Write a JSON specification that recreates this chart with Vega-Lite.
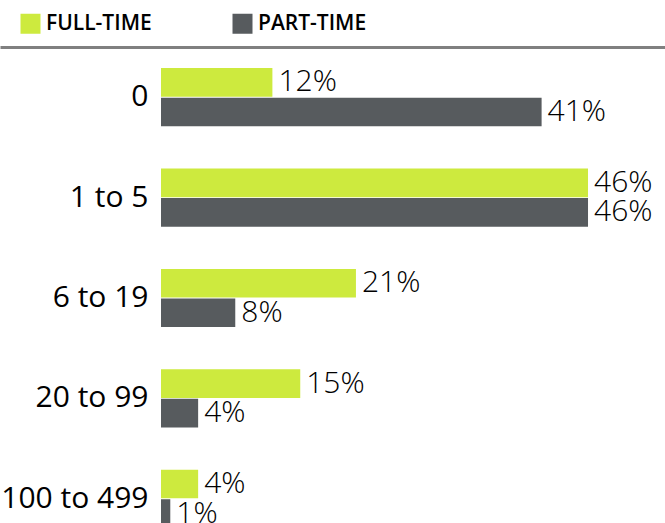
{
  "$schema": "https://vega.github.io/schema/vega-lite/v6.json",
  "width": 665,
  "height": 502,
  "padding": {"top": 13, "left": 0, "right": 0, "bottom": 0},
  "data": {
    "values": [
      {"group": "0", "type": "FULL-TIME", "value": 0.12},
      {"group": "0", "type": "PART-TIME", "value": 0.41},
      {"group": "1 to 5", "type": "FULL-TIME", "value": 0.46},
      {"group": "1 to 5", "type": "PART-TIME", "value": 0.46},
      {"group": "6 to 19", "type": "FULL-TIME", "value": 0.21},
      {"group": "6 to 19", "type": "PART-TIME", "value": 0.08},
      {"group": "20 to 99", "type": "FULL-TIME", "value": 0.15},
      {"group": "20 to 99", "type": "PART-TIME", "value": 0.04},
      {"group": "100 to 499", "type": "FULL-TIME", "value": 0.04},
      {"group": "100 to 499", "type": "PART-TIME", "value": 0.01}
    ]
  },
  "encoding": {
    "y": {
      "field": "group",
      "type": "nominal",
      "sort": ["0", "1 to 5", "6 to 19", "20 to 99", "100 to 499"],
      "scale": {"paddingInner": 0.42, "paddingOuter": 0.21},
      "axis": {
        "title": null,
        "domain": false,
        "ticks": false,
        "labelPadding": 13,
        "offset": -161,
        "labelFont": "Open Sans",
        "labelFontSize": 30,
        "labelColor": "#000000",
        "labelLimit": 0
      }
    },
    "yOffset": {
      "field": "type",
      "type": "nominal",
      "sort": ["FULL-TIME", "PART-TIME"],
      "scale": {"paddingInner": 0.03}
    },
    "x": {
      "field": "value",
      "type": "quantitative",
      "scale": {"domain": [-0.17344, 0.54293], "nice": false, "zero": false},
      "axis": {
        "orient": "top",
        "title": null,
        "labels": false,
        "ticks": false,
        "grid": false,
        "domain": true,
        "domainColor": "#808080",
        "domainWidth": 3
      }
    }
  },
  "layer": [
    {
      "mark": {"type": "bar"},
      "encoding": {
        "x2": {"datum": 0},
        "color": {
          "field": "type",
          "type": "nominal",
          "scale": {"domain": ["FULL-TIME", "PART-TIME"], "range": ["#CDEA3E", "#575B5E"]},
          "legend": {
            "orient": "none",
            "legendX": 20,
            "legendY": -34,
            "direction": "horizontal",
            "title": null,
            "symbolType": "square",
            "symbolSize": 400,
            "symbolStrokeWidth": 0,
            "labelFont": "Open Sans",
            "labelFontSize": 21,
            "labelFontWeight": 600,
            "labelColor": "#000000",
            "labelOffset": 5,
            "columnPadding": 80,
            "padding": 0
          }
        }
      }
    },
    {
      "mark": {
        "type": "text",
        "align": "left",
        "baseline": "middle",
        "dx": 6,
        "font": "Open Sans",
        "fontSize": 30,
        "fontWeight": 300,
        "color": "#000000"
      },
      "encoding": {
        "text": {"field": "value", "type": "quantitative", "format": ".0%"}
      }
    }
  ],
  "config": {"view": {"stroke": null}}
}
